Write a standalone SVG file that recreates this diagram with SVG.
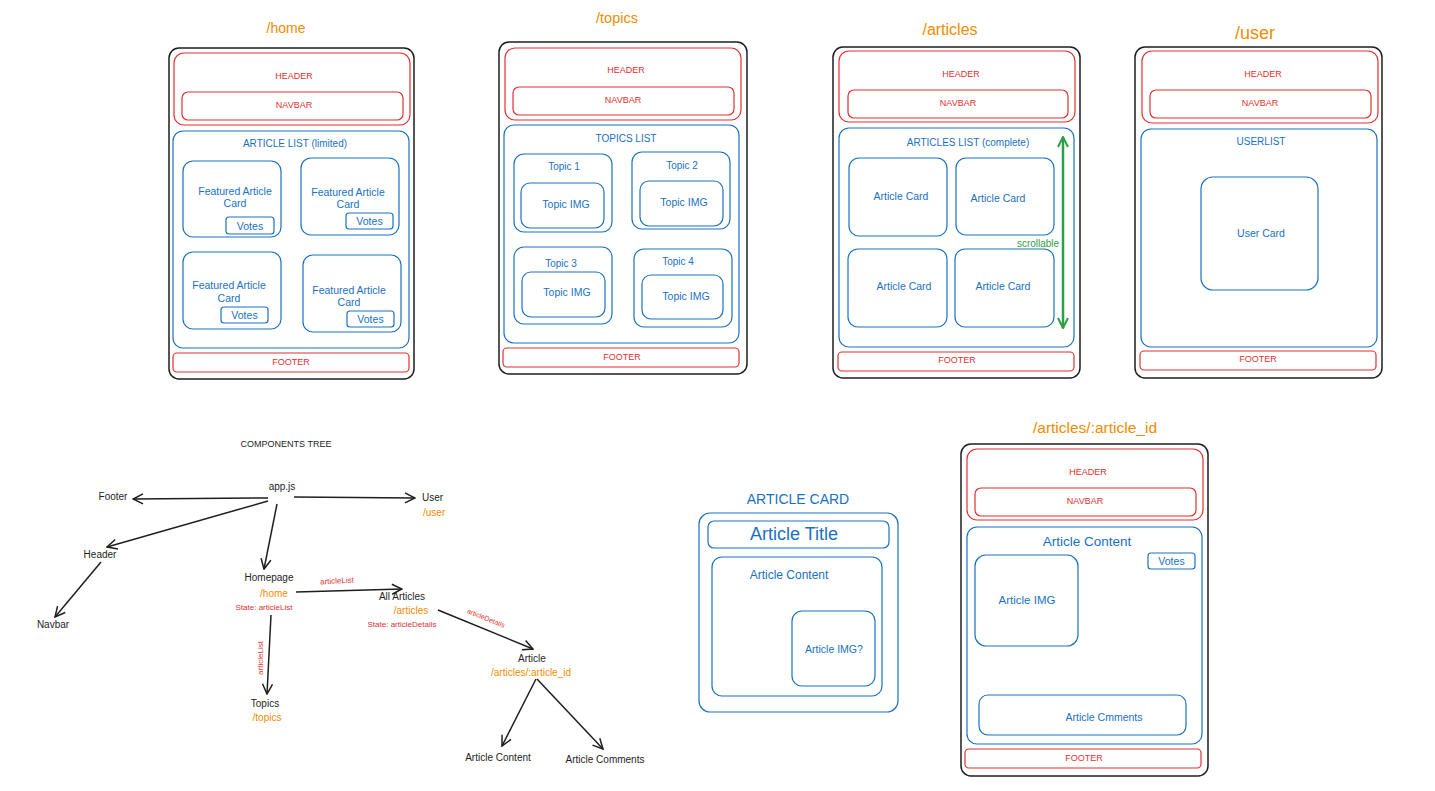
<svg xmlns="http://www.w3.org/2000/svg" width="1435" height="791" viewBox="0 0 1435 791">
<style>
text{font-family:"Liberation Sans",Arial,sans-serif;text-anchor:middle;dominant-baseline:central}
.frame{fill:none;stroke:#1e1e1e;stroke-width:1.5}
.r{fill:none;stroke:#e03131;stroke-width:1.2}
.b{fill:none;stroke:#1971c2;stroke-width:1.2}
.tr{fill:#e03131}
.tb{fill:#1971c2}
.to{fill:#f08c00}
.tk{fill:#1e1e1e}
.tg{fill:#2f9e44}
.s9{font-size:9px}
.s10{font-size:10px}
.s105{font-size:10.5px}
.edge{fill:none;stroke:#1e1e1e;stroke-width:1.5;marker-end:url(#ah)}
</style>
<defs>
<marker id="ah" viewBox="0 0 12 12" refX="11" refY="6" markerWidth="12" markerHeight="12" markerUnits="userSpaceOnUse" orient="auto"><path d="M1,1 L11,6 L1,11" fill="none" stroke="#1e1e1e" stroke-width="1.5"/></marker>
<marker id="gh" viewBox="0 0 12 12" refX="11" refY="6" markerWidth="12" markerHeight="12" markerUnits="userSpaceOnUse" orient="auto-start-reverse"><path d="M1,1 L11,6 L1,11" fill="none" stroke="#2f9e44" stroke-width="2"/></marker>
</defs>
<rect width="1435" height="791" fill="#ffffff"/>

<!-- /home -->
<g id="page-home">
<text x="286" y="28" class="to" font-size="14">/home</text>
<rect x="169" y="48" width="245" height="331" rx="10" class="frame"/>
<rect x="174" y="53" width="236" height="72" rx="10" class="r"/>
<text x="294" y="76" class="tr s9">HEADER</text>
<rect x="182" y="92" width="221" height="28" rx="6" class="r"/>
<text x="294" y="105" class="tr s9">NAVBAR</text>
<rect x="173" y="131" width="236" height="217" rx="10" class="b"/>
<text x="295" y="143" class="tb s10">ARTICLE LIST (limited)</text>
<rect x="183" y="161" width="98" height="76" rx="10" class="b"/>
<text x="235" y="191" class="tb s105">Featured Article</text>
<text x="235" y="203" class="tb s105">Card</text>
<rect x="226" y="217" width="48" height="17" rx="3" class="b"/>
<text x="250" y="225.5" class="tb s105">Votes</text>
<rect x="301" y="158" width="98" height="77" rx="10" class="b"/>
<text x="348" y="192" class="tb s105">Featured Article</text>
<text x="348" y="204" class="tb s105">Card</text>
<rect x="346" y="213" width="47" height="16" rx="3" class="b"/>
<text x="369.5" y="221" class="tb s105">Votes</text>
<rect x="183" y="252" width="98" height="77" rx="10" class="b"/>
<text x="229" y="285" class="tb s105">Featured Article</text>
<text x="229" y="298" class="tb s105">Card</text>
<rect x="221" y="307" width="47" height="16" rx="3" class="b"/>
<text x="244.5" y="315" class="tb s105">Votes</text>
<rect x="303" y="255" width="98" height="77" rx="10" class="b"/>
<text x="349" y="290" class="tb s105">Featured Article</text>
<text x="349" y="302" class="tb s105">Card</text>
<rect x="347" y="311" width="47" height="16" rx="3" class="b"/>
<text x="370.5" y="319" class="tb s105">Votes</text>
<rect x="173" y="353" width="236" height="19" rx="4" class="r"/>
<text x="291" y="362" class="tr s9">FOOTER</text>
</g>

<!-- /topics -->
<g id="page-topics">
<text x="617" y="18" class="to" font-size="14.5">/topics</text>
<rect x="499" y="42" width="248" height="332" rx="10" class="frame"/>
<rect x="505" y="48" width="236" height="72" rx="10" class="r"/>
<text x="626" y="70" class="tr s9">HEADER</text>
<rect x="513" y="87" width="221" height="28" rx="6" class="r"/>
<text x="623" y="100" class="tr s9">NAVBAR</text>
<rect x="504" y="125" width="235" height="218" rx="10" class="b"/>
<text x="626" y="138" class="tb s10">TOPICS LIST</text>
<rect x="514" y="154" width="98" height="78" rx="10" class="b"/>
<text x="564" y="166" class="tb s10">Topic 1</text>
<rect x="521" y="183" width="83" height="45" rx="9" class="b"/>
<text x="566" y="204" class="tb s105">Topic IMG</text>
<rect x="632" y="152" width="98" height="77" rx="10" class="b"/>
<text x="682" y="165" class="tb s10">Topic 2</text>
<rect x="640" y="181" width="83" height="45" rx="9" class="b"/>
<text x="684" y="202" class="tb s105">Topic IMG</text>
<rect x="514" y="247" width="98" height="77" rx="10" class="b"/>
<text x="561" y="263" class="tb s10">Topic 3</text>
<rect x="522" y="272" width="83" height="45" rx="9" class="b"/>
<text x="567" y="292" class="tb s105">Topic IMG</text>
<rect x="634" y="249" width="98" height="78" rx="10" class="b"/>
<text x="678" y="261" class="tb s10">Topic 4</text>
<rect x="642" y="275" width="81" height="44" rx="9" class="b"/>
<text x="686" y="296" class="tb s105">Topic IMG</text>
<rect x="503" y="348" width="236" height="19" rx="4" class="r"/>
<text x="622" y="357" class="tr s9">FOOTER</text>
</g>

<!-- /articles -->
<g id="page-articles">
<text x="950" y="29" class="to" font-size="16">/articles</text>
<rect x="833" y="47" width="247" height="331" rx="10" class="frame"/>
<rect x="839" y="51" width="236" height="71" rx="10" class="r"/>
<text x="961" y="74" class="tr s9">HEADER</text>
<rect x="848" y="90" width="220" height="28" rx="6" class="r"/>
<text x="958" y="103" class="tr s9">NAVBAR</text>
<rect x="839" y="128" width="235" height="219" rx="10" class="b"/>
<text x="968" y="142" class="tb s10">ARTICLES LIST (complete)</text>
<rect x="849" y="158" width="98" height="78" rx="10" class="b"/>
<text x="901" y="196" class="tb s105">Article Card</text>
<rect x="956" y="158" width="98" height="77" rx="10" class="b"/>
<text x="998" y="198" class="tb s105">Article Card</text>
<rect x="848" y="249" width="99" height="78" rx="10" class="b"/>
<text x="904" y="286" class="tb s105">Article Card</text>
<rect x="955" y="249" width="99" height="78" rx="10" class="b"/>
<text x="1003" y="286" class="tb s105">Article Card</text>
<text x="1038" y="243" class="tg s10">scrollable</text>
<rect x="838" y="352" width="236" height="19" rx="4" class="r"/>
<text x="957" y="360" class="tr s9">FOOTER</text>
</g>

<!-- /user -->
<g id="page-user">
<text x="1255" y="33" class="to" font-size="18">/user</text>
<rect x="1135" y="47" width="247" height="331" rx="10" class="frame"/>
<rect x="1142" y="51" width="236" height="72" rx="10" class="r"/>
<text x="1263" y="74" class="tr s9">HEADER</text>
<rect x="1150" y="90" width="221" height="28" rx="6" class="r"/>
<text x="1260" y="103" class="tr s9">NAVBAR</text>
<rect x="1141" y="129" width="236" height="218" rx="10" class="b"/>
<text x="1261" y="141" class="tb s10">USERLIST</text>
<rect x="1201" y="177" width="117" height="113" rx="12" class="b"/>
<text x="1261" y="233" class="tb s105">User Card</text>
<rect x="1140" y="351" width="236" height="19" rx="4" class="r"/>
<text x="1258" y="359" class="tr s9">FOOTER</text>
</g>

<!-- ARTICLE CARD -->
<g id="article-card">
<text x="798" y="499" class="tb" font-size="14">ARTICLE CARD</text>
<rect x="699" y="513" width="199" height="199" rx="11" class="b"/>
<rect x="708" y="521" width="181" height="27" rx="6" class="b"/>
<text x="794" y="534" class="tb" font-size="18">Article Title</text>
<rect x="712" y="557" width="170" height="139" rx="10" class="b"/>
<text x="789" y="575" class="tb" font-size="12">Article Content</text>
<rect x="792" y="611" width="83" height="75" rx="10" class="b"/>
<text x="834" y="649" class="tb s105">Article IMG?</text>
</g>

<!-- /articles/:article_id -->
<g id="page-article-id">
<text x="1095" y="427" class="to" font-size="15.5">/articles/:article_id</text>
<rect x="961" y="444" width="247" height="332" rx="10" class="frame"/>
<rect x="967" y="449" width="236" height="71" rx="10" class="r"/>
<text x="1088" y="472" class="tr s9">HEADER</text>
<rect x="975" y="488" width="221" height="28" rx="6" class="r"/>
<text x="1085" y="501" class="tr s9">NAVBAR</text>
<rect x="967" y="527" width="235" height="217" rx="10" class="b"/>
<text x="1087" y="541" class="tb" font-size="13.5">Article Content</text>
<rect x="1148" y="553" width="47" height="16" rx="3" class="b"/>
<text x="1171.5" y="561" class="tb s105">Votes</text>
<rect x="975" y="555" width="103" height="91" rx="11" class="b"/>
<text x="1027" y="600" class="tb" font-size="11.5">Article IMG</text>
<rect x="979" y="695" width="207" height="40" rx="9" class="b"/>
<text x="1104" y="717" class="tb s105">Article Cmments</text>
<rect x="965" y="749" width="236" height="19" rx="4" class="r"/>
<text x="1084" y="758" class="tr s9">FOOTER</text>
</g>

<!-- Components tree nodes -->
<g id="tree-title"><text x="286" y="444" class="tk s9">COMPONENTS TREE</text></g>
<g id="n-app"><text x="282" y="486" class="tk s10">app.js</text></g>
<g id="n-footer"><text x="113" y="496" class="tk s10">Footer</text></g>
<g id="n-header"><text x="100" y="554" class="tk s10">Header</text></g>
<g id="n-navbar"><text x="53" y="624" class="tk s10">Navbar</text></g>
<g id="n-user"><text x="422" y="497" class="tk s10" text-anchor="start" style="text-anchor:start">User</text><text x="423" y="512" class="to s10" style="text-anchor:start">/user</text></g>
<g id="n-homepage"><text x="269" y="577" class="tk s10">Homepage</text><text x="274" y="593" class="to s10">/home</text><text x="264" y="607" class="tr" font-size="8">State: articleList</text></g>
<g id="n-topics"><text x="265" y="703" class="tk s10">Topics</text><text x="267" y="717" class="to s10">/topics</text></g>
<g id="n-allarticles"><text x="402" y="596" class="tk s10">All Articles</text><text x="411" y="610" class="to s10">/articles</text><text x="402" y="624" class="tr" font-size="8">State: articleDetails</text></g>
<g id="n-article"><text x="532" y="658" class="tk s10">Article</text><text x="531" y="672" class="to s10">/articles/:article_id</text></g>
<g id="n-content"><text x="498" y="757" class="tk s10">Article Content</text></g>
<g id="n-comments"><text x="605" y="759" class="tk s10">Article Comments</text></g>

<!-- Connectors -->
<g id="connectors">
<path d="M268,498 L133,499" class="edge"/>
<path d="M268,501 L107,547" class="edge"/>
<path d="M101,562 L55,617" class="edge"/>
<path d="M277,504 L264,569" class="edge"/>
<path d="M294,497 L415,498" class="edge"/>
<path d="M296,592 L402,589" class="edge"/>
<path d="M271,615 L267,694" class="edge"/>
<path d="M438,610 L533,649" class="edge"/>
<path d="M536,679 L502,746" class="edge"/>
<path d="M537,679 L603,749" class="edge"/>
<path d="M1063,137 L1063,328" fill="none" stroke="#2f9e44" stroke-width="2.5" marker-start="url(#gh)" marker-end="url(#gh)"/>
<text x="337" y="581" class="tr" font-size="8" transform="rotate(-3 337 581)">articleList</text>
<text x="260" y="658" class="tr" font-size="8" transform="rotate(-90 260 658)">articleList</text>
<text x="486" y="618" class="tr" font-size="7" transform="rotate(22 486 618)">articleDetails</text>
</g>
</svg>
